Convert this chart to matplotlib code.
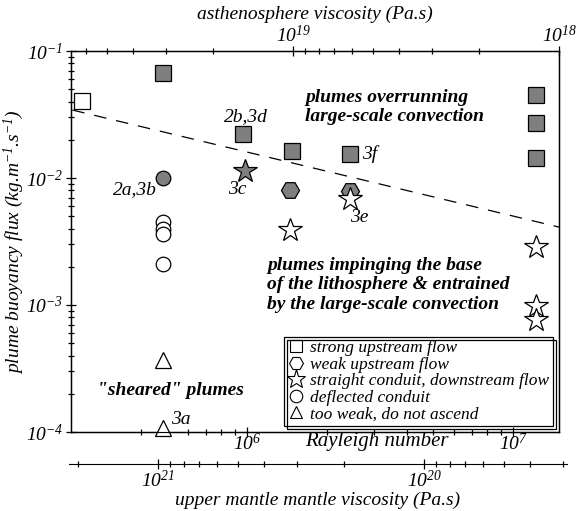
import numpy as np
import matplotlib
matplotlib.use("Agg")
import matplotlib.pyplot as plt
from matplotlib.lines import Line2D
from matplotlib.patches import Rectangle
from matplotlib.transforms import IdentityTransform

plt.rcParams['font.family'] = 'Liberation Serif'
plt.rcParams['font.style'] = 'italic'
plt.rcParams['mathtext.fontset'] = 'custom'
plt.rcParams['mathtext.rm'] = 'Liberation Serif:italic'
plt.rcParams['mathtext.it'] = 'Liberation Serif:italic'
plt.rcParams['mathtext.bf'] = 'Liberation Serif:bold:italic'

# data (Rayleigh number, buoyancy flux)
sq_gray_ra = [4.83e5, 9.66e5, 1.47e6, 2.43e6, 1.22e7, 1.22e7, 1.22e7]
sq_gray_flux = [0.0667, 0.0221, 0.0163, 0.01545, 0.0451, 0.0270, 0.01428]
sq_open_ra = [2.40e5]
sq_open_flux = [0.0406]
hex_gray_ra = [1.45e6, 2.43e6]
hex_gray_flux = [0.0081, 0.0079]
star_gray_ra = [9.8e5]
star_gray_flux = [0.01142]
star_open_ra = [1.45e6, 2.43e6, 1.22e7, 1.22e7, 1.22e7]
star_open_flux = [0.00393, 0.0068, 0.00285, 0.00099, 0.00076]
circ_gray_ra = [4.83e5]
circ_gray_flux = [0.0100]
circ_open_ra = [4.83e5, 4.83e5, 4.83e5, 4.83e5]
circ_open_flux = [0.0045, 0.0040, 0.00365, 0.00212]
tri_open_ra = [4.83e5, 4.83e5]
tri_open_flux = [3.69e-4, 1.08e-4]

dash_ra = [2.2e5, 1.49e7]
dash_flux = [0.0343, 0.0041]

ra_lo, ra_hi = 2.17e5, 1.49e7
asth_const = ra_hi * 1e18      # asthenosphere viscosity = const / Ra
um_const = 4.63e26             # upper mantle viscosity = const / Ra

W, H = 585, 511
fig = plt.figure(figsize=(W / 100, H / 100), dpi=100)
L, R, T, B = 70.7, 559.3, 51, 432
ax = fig.add_axes([L / W, 1 - B / H, (R - L) / W, (B - T) / H])
ax.set_xscale('log')
ax.set_yscale('log')
ax.set_xlim(ra_lo, ra_hi)
ax.set_ylim(1e-4, 1e-1)

gray = '#7f7f7f'
kw = dict(ls='none', mec='black', mew=0.9, clip_on=False, zorder=3)
ax.plot(sq_gray_ra, sq_gray_flux, marker='s', ms=11.5, mfc=gray, **kw)
ax.plot(sq_open_ra, sq_open_flux, marker='s', ms=11.5, mfc='white', **kw)
ax.plot(hex_gray_ra, hex_gray_flux, marker='H', ms=13, mfc=gray, **kw)
ax.plot(star_gray_ra, star_gray_flux, marker='*', ms=17.5, mfc=gray, **kw)
ax.plot(star_open_ra, star_open_flux, marker='*', ms=17.5, mfc='white', **kw)
ax.plot(circ_gray_ra, circ_gray_flux, marker='o', ms=10.5, mfc=gray, **kw)
ax.plot(circ_open_ra, circ_open_flux, marker='o', ms=10.5, mfc='white', **kw)
ax.plot(tri_open_ra, tri_open_flux, marker='^', ms=11, mfc='white', **kw)
ax.plot(dash_ra, dash_flux, color='black', lw=0.9, dashes=(10, 8), zorder=2)

# point labels
fs_lab = 14
def label(txt, x, y, dx, dy):
    ax.annotate(txt, (x, y), xytext=(dx, dy), textcoords='offset points',
                ha='center', va='center', fontsize=fs_lab)

label('2a,3b', circ_gray_ra[0], circ_gray_flux[0], -20, -8.5)
label('3c', star_gray_ra[0], star_gray_flux[0], -5.5, -13.5)
label('2b,3d', sq_gray_ra[1], sq_gray_flux[1], 2, 12.5)
label('3f', sq_gray_ra[3], sq_gray_flux[3], 14, 0)
label('3e', star_open_ra[1], star_open_flux[1], 6.5, -13)
label('3a', tri_open_ra[1], tri_open_flux[1], 13, 6)

bold = dict(fontsize=14, fontweight='bold', transform=ax.transAxes, linespacing=1.2)
ax.text(0.4795, 0.853, 'plumes overrunning\nlarge-scale convection', ha='left', va='center', **bold)
ax.text(0.402, 0.386, 'plumes impinging the base\nof the lithosphere & entrained\nby the large-scale convection',
        ha='left', va='center', **bold)
ax.text(0.205, 0.110, '"sheared" plumes', ha='center', va='center', **bold)

# main axis ticks
ax.set_yticks([1e-4, 1e-3, 1e-2, 1e-1], [r'$10^{-4}$', r'$10^{-3}$', r'$10^{-2}$', r'$10^{-1}$'])
ax.set_yticks([m * 10.0 ** e for e in (-4, -3, -2) for m in range(2, 10)], minor=True)
ax.set_xticks([1e6, 1e7], [r'$10^{6}$', r'$10^{7}$'])
ax.set_xticks([m * 1e5 for m in range(4, 10)] + [m * 1e6 for m in range(2, 10)], minor=True)
ax.xaxis.set_minor_formatter(plt.NullFormatter())
ax.yaxis.set_minor_formatter(plt.NullFormatter())
ax.tick_params(which='both', direction='inout', labelsize=14, pad=2, width=0.9)
ax.tick_params(axis='x', pad=-3)
ax.tick_params(which='major', length=7)
ax.tick_params(which='minor', length=4.5)
for s in ax.spines.values():
    s.set_linewidth(1.0)
ax.set_ylabel(r'plume buoyancy flux (kg.m$^{-1}$.s$^{-1}$)', fontsize=14, labelpad=0)
fig.text(377 / W, 1 - 441 / H, 'Rayleigh number', ha='center', va='center', fontsize=15)

# top axis: asthenosphere viscosity
top = ax.twiny()
top.set_xscale('log')
top.set_xlim(asth_const / ra_lo, asth_const / ra_hi)
top.set_xticks([1e19, 1e18], [r'$10^{19}$', r'$10^{18}$'])
top.set_xticks([m * 1e19 for m in range(2, 7)] + [m * 1e18 for m in range(2, 10)], minor=True)
top.xaxis.set_minor_formatter(plt.NullFormatter())
top.tick_params(which='both', direction='inout', labelsize=14, pad=0, width=0.9)
top.tick_params(which='major', length=7)
top.tick_params(which='minor', length=4.5)
top.set_xlabel('asthenosphere viscosity (Pa.s)', fontsize=14, labelpad=4)

# bottom axis: upper mantle viscosity
def px_to_ra(px):
    return 10 ** (np.log10(ra_lo) + (px - L) / (R - L) * np.log10(ra_hi / ra_lo))

bl, br, by = 68.6, 567, 464
bax = fig.add_axes([bl / W, 1 - by / H, (br - bl) / W, 1e-6])
bax.set_xscale('log')
bax.set_xlim(um_const / px_to_ra(bl), um_const / px_to_ra(br))
for side in ('top', 'left', 'right'):
    bax.spines[side].set_visible(False)
bax.set_yticks([])
bax.patch.set_visible(False)
bax.set_xticks([1e21, 1e20], [r'$10^{21}$', r'$10^{20}$'])
bax.set_xticks([2e21] + [m * 1e20 for m in range(2, 10)] + [m * 1e19 for m in range(3, 10)], minor=True)
bax.xaxis.set_minor_formatter(plt.NullFormatter())
bax.tick_params(which='both', direction='inout', labelsize=14, pad=1, width=0.9)
bax.tick_params(which='major', length=7)
bax.tick_params(which='minor', length=4.5)
bax.set_xlabel('upper mantle mantle viscosity (Pa.s)', fontsize=14, labelpad=0)

# legend
def h(marker, ms):
    return Line2D([], [], ls='none', marker=marker, ms=ms, mfc='white', mec='black', mew=0.8)

handles = [h('s', 9), h('H', 10), h('*', 14), h('o', 9), h('^', 9)]
names = ['strong upstream flow', 'weak upstream flow', 'straight conduit, downstream flow',
         'deflected conduit', 'too weak, do not ascend']
leg = ax.legend(handles, names, loc='lower right', bbox_to_anchor=(0.987, 0.016),
                borderaxespad=0, fontsize=12.5, labelspacing=0.02, handletextpad=0.3,
                handlelength=1.0, borderpad=0.2, fancybox=False, framealpha=1,
                edgecolor='black')
leg.get_frame().set_linewidth(0.9)
leg.set_zorder(6)

fig.canvas.draw()
bb = leg.get_frame().get_window_extent()
fig.add_artist(Rectangle((bb.x0 + 3, bb.y0 - 3), bb.width, bb.height, transform=IdentityTransform(),
                         fill=False, edgecolor='black', lw=0.9, zorder=5))

fig.savefig('out.png', dpi=100)
